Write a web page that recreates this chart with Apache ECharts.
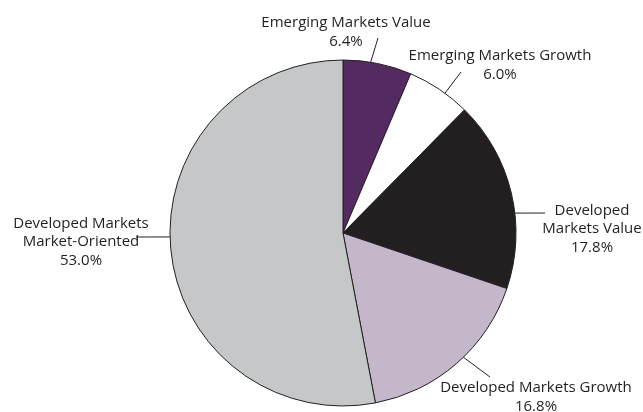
<!DOCTYPE html>
<html>
<head>
<meta charset="utf-8">
<script src="https://cdn.jsdelivr.net/npm/echarts@6/dist/echarts.min.js"></script>
<style>
    html, body { margin: 0; padding: 0; background: #fff; }
    #chart { width: 643px; height: 412px; }
</style>
</head>
<body>
<div id="chart"></div>
<script>
// slice names, shown on the chart as two or three lines
const categories = [
    'Emerging Markets Value',
    'Emerging Markets Growth',
    'Developed\nMarkets Value',
    'Developed Markets Growth',
    'Developed Markets\nMarket-Oriented'
];
// share of each slice, %
const shares = [6.4, 6.0, 17.8, 16.8, 53.0];

const SLICE_COLORS = ['#532b60', '#ffffff', '#231f20', '#c4b7c9', '#c6c7c9'];

const PIE_CENTER = [343, 233];
const PIE_RADIUS = 173;

// where each label sits, and where its leader line touches the pie (degrees clockwise from top)
const LABEL_LAYOUT = [
    { x: 346, y: 32, edgeAngle: 9.2, lineEnd: [378, 38] },
    { x: 500, y: 65, edgeAngle: 36.1, lineEnd: [461, 72] },
    { x: 592, y: 229, edgeAngle: 83.4, lineEnd: [545, 213] },
    { x: 536, y: 397, edgeAngle: 135.9, lineEnd: [490, 377] },
    { x: 81, y: 242, edgeAngle: 268.7, lineEnd: [136, 237] }
];

function edgePoint(angle) {
    const rad = angle * Math.PI / 180;
    return [
        PIE_CENTER[0] + PIE_RADIUS * Math.sin(rad),
        PIE_CENTER[1] - PIE_RADIUS * Math.cos(rad)
    ];
}

const chart = echarts.init(document.getElementById('chart'));
chart.setOption({
    animation: false,
    textStyle: {
        fontFamily: '"Open Sans", sans-serif'
    },
    series: [{
        type: 'pie',
        center: PIE_CENTER,
        radius: PIE_RADIUS,
        startAngle: 90,
        clockwise: true,
        silent: true,
        itemStyle: {
            borderColor: '#231f20',
            borderWidth: 1
        },
        label: {
            show: true,
            position: 'outside',
            alignTo: 'none',
            overflow: 'none',
            color: '#231f20',
            fontSize: 15,
            lineHeight: 18.5,
            align: 'center',
            formatter: p => p.name + '\n' + p.value.toFixed(1) + '%'
        },
        labelLine: {
            show: true,
            lineStyle: { color: '#231f20', width: 1 }
        },
        labelLayout: params => {
            const cfg = LABEL_LAYOUT[params.dataIndex];
            return {
                x: cfg.x,
                y: cfg.y,
                align: 'center',
                verticalAlign: 'middle',
                labelLinePoints: [edgePoint(cfg.edgeAngle), cfg.lineEnd, cfg.lineEnd]
            };
        },
        data: categories.map((name, i) => ({
            name: name,
            value: shares[i],
            itemStyle: { color: SLICE_COLORS[i] }
        }))
    }]
});
</script>
</body>
</html>
